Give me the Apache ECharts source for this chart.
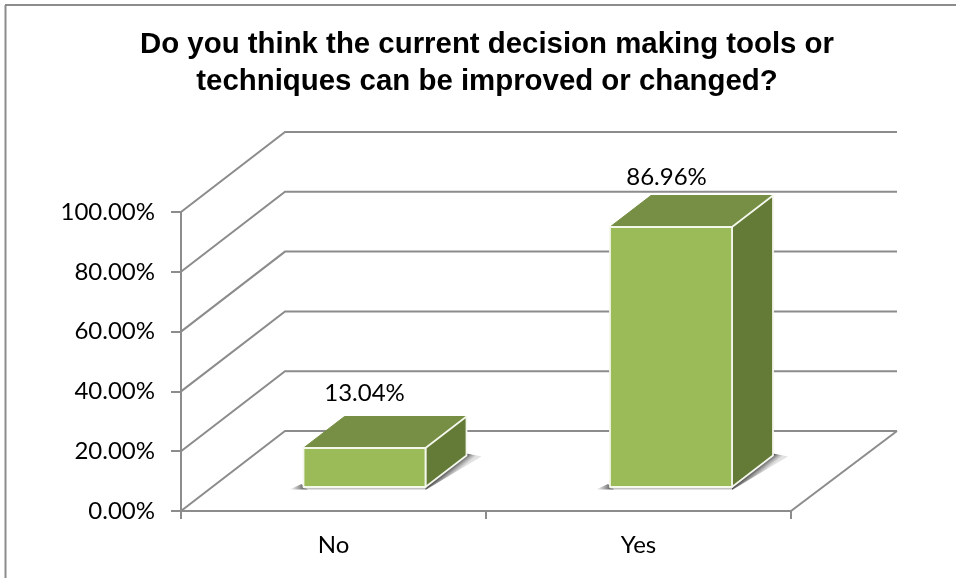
<!DOCTYPE html>
<html>
<head>
<meta charset="utf-8">
<style>html,body{margin:0;padding:0;background:#fff}#c{width:956px;height:578px}</style>
<script src="https://cdn.jsdelivr.net/npm/echarts@6/dist/echarts.min.js"></script>
</head>
<body>
<div id="c"></div>
<script>
const titleText = 'Do you think the current decision making tools or\ntechniques can be improved or changed?';
const categories = ['No', 'Yes'];
const shares = [13.04, 86.96];
const gridTicks = [0, 20, 40, 60, 80, 100];

const LINE = '#8c8c8c', FRONT = '#9BBB59', TOP = '#778F45', SIDE = '#647A37';
const DX = 104, DY = -80;               // wall depth
const BX = 31, BY = -24, BW = 61;       // bar placement on the floor
const DEPTHX = 41, DEPTHY = -31.5;      // bar depth
const LABEL_FONT = 'Lato, "Open Sans", sans-serif';

const chart = echarts.init(document.getElementById('c'), null, {renderer: 'canvas'});

function wallItem(params, api) {
  const cs = params.coordSys;
  const y = api.coord([0, api.value(0)])[1];
  const x0 = cs.x;
  const x1 = cs.x + DX;
  const x2 = cs.x + cs.width + DX + 2;
  const children = [{
    type: 'polyline',
    shape: {points: [[x0, y], [x1, y + DY], [x2, y + DY]]},
    style: {stroke: LINE, lineWidth: 2, fill: null}
  }];
  if (params.dataIndex === 0) {
    children.push({
      type: 'line',
      shape: {x1: cs.x + cs.width, y1: y, x2: x2, y2: y + DY},
      style: {stroke: LINE, lineWidth: 2}
    });
  }
  return {type: 'group', children};
}

function barItem(params, api) {
  const idx = api.value(0), val = api.value(1);
  const t = api.coord([idx, val]);
  const b = api.coord([idx, 0]);
  const cx = t[0] + BX + idx * 1.5;
  const l = cx - BW, r = cx + BW;
  const top = t[1] + BY, bot = b[1] + BY;
  const edge = {stroke: '#f4f7ec', lineWidth: 1.8, lineJoin: 'round'};
  const labelLift = idx === 0 ? 55 : 50;
  const labelShift = idx === 0 ? 0 : -4.5;
  const mx = r + DEPTHX / 2, my = bot + DEPTHY / 2;
  return {
    type: 'group',
    children: [
      {type: 'polygon', shape: {points: [[l - 14, bot + 2.5], [l - 2, bot - 3], [l + 4, bot + 2.5]]},
       style: {fill: {type: 'linear', x: l - 14, y: 0, x2: l, y2: 0, global: true,
         colorStops: [{offset: 0, color: 'rgba(110,110,110,0)'}, {offset: 1, color: 'rgba(90,90,90,0.9)'}]}}},
      {type: 'polygon', shape: {points: [[l, bot], [r, bot], [r, bot + 2.5], [l, bot + 2.5]]},
       style: {fill: 'rgba(170,170,170,0.7)'}},
      {type: 'polygon', shape: {points: [[r, bot + 3], [r + DEPTHX + 15, bot + DEPTHY + 1], [r + DEPTHX, bot + DEPTHY - 2], [r, bot]]},
       style: {fill: {type: 'linear', x: mx, y: my, x2: mx + 5, y2: my + 6, global: true,
         colorStops: [{offset: 0, color: 'rgba(70,70,70,1)'}, {offset: 1, color: 'rgba(140,140,140,0.25)'}]}}},
      {type: 'polygon', shape: {points: [[l, top], [r, top], [r + DEPTHX, top + DEPTHY], [l + DEPTHX, top + DEPTHY]]},
       style: {fill: TOP, stroke: TOP, lineWidth: 1}},
      {type: 'polygon', shape: {points: [[r, top], [r + DEPTHX, top + DEPTHY], [r + DEPTHX, bot + DEPTHY], [r, bot]]},
       style: Object.assign({fill: SIDE}, edge)},
      {type: 'rect', shape: {x: l, y: top, width: r - l, height: bot - top},
       style: Object.assign({fill: FRONT}, edge)},
      {type: 'text', x: cx + labelShift, y: top - labelLift,
       style: {text: val.toFixed(2) + '%', fill: '#000', font: '24px ' + LABEL_FONT, align: 'center', verticalAlign: 'middle'}}
    ]
  };
}

chart.setOption({
  animation: false,
  backgroundColor: '#fff',
  title: {
    text: titleText, left: 482, top: 21, textAlign: 'center',
    textStyle: {fontFamily: '"Liberation Sans", Arial, sans-serif', fontWeight: 'bold', fontSize: 29.4, lineHeight: 37, color: '#000'}
  },
  grid: {left: 181, right: 165, top: 212, bottom: 67, containLabel: false},
  xAxis: {
    type: 'category', data: categories,
    axisLine: {lineStyle: {color: LINE, width: 2}},
    axisTick: {show: true, length: 8, alignWithLabel: false, lineStyle: {color: LINE, width: 2}},
    axisLabel: {fontFamily: LABEL_FONT, fontSize: 24, color: '#000', margin: 22}
  },
  yAxis: {
    type: 'value', min: 0, max: 100, interval: 20,
    axisLine: {show: true, lineStyle: {color: LINE, width: 2}},
    axisTick: {show: true, length: 10, lineStyle: {color: LINE, width: 2}},
    splitLine: {show: false},
    axisLabel: {fontFamily: LABEL_FONT, fontSize: 24, color: '#000', margin: 26, padding: [5, 0, 0, 0],
      formatter: v => v.toFixed(2) + '%'}
  },
  graphic: [
    {type: 'line', shape: {x1: 5, y1: 5, x2: 956, y2: 5}, style: {stroke: '#8c8c8c', lineWidth: 2}},
    {type: 'line', shape: {x1: 5.5, y1: 5, x2: 5.5, y2: 578}, style: {stroke: '#8c8c8c', lineWidth: 2}}
  ],
  series: [
    {type: 'custom', coordinateSystem: 'cartesian2d', renderItem: wallItem, clip: false, silent: true, z: 1,
     encode: {y: 0}, data: gridTicks.map(v => [v])},
    {type: 'custom', coordinateSystem: 'cartesian2d', renderItem: barItem, clip: false, z: 5,
     encode: {x: 0, y: 1}, data: shares.map((v, i) => [i, v])}
  ]
});
</script>
</body>
</html>
